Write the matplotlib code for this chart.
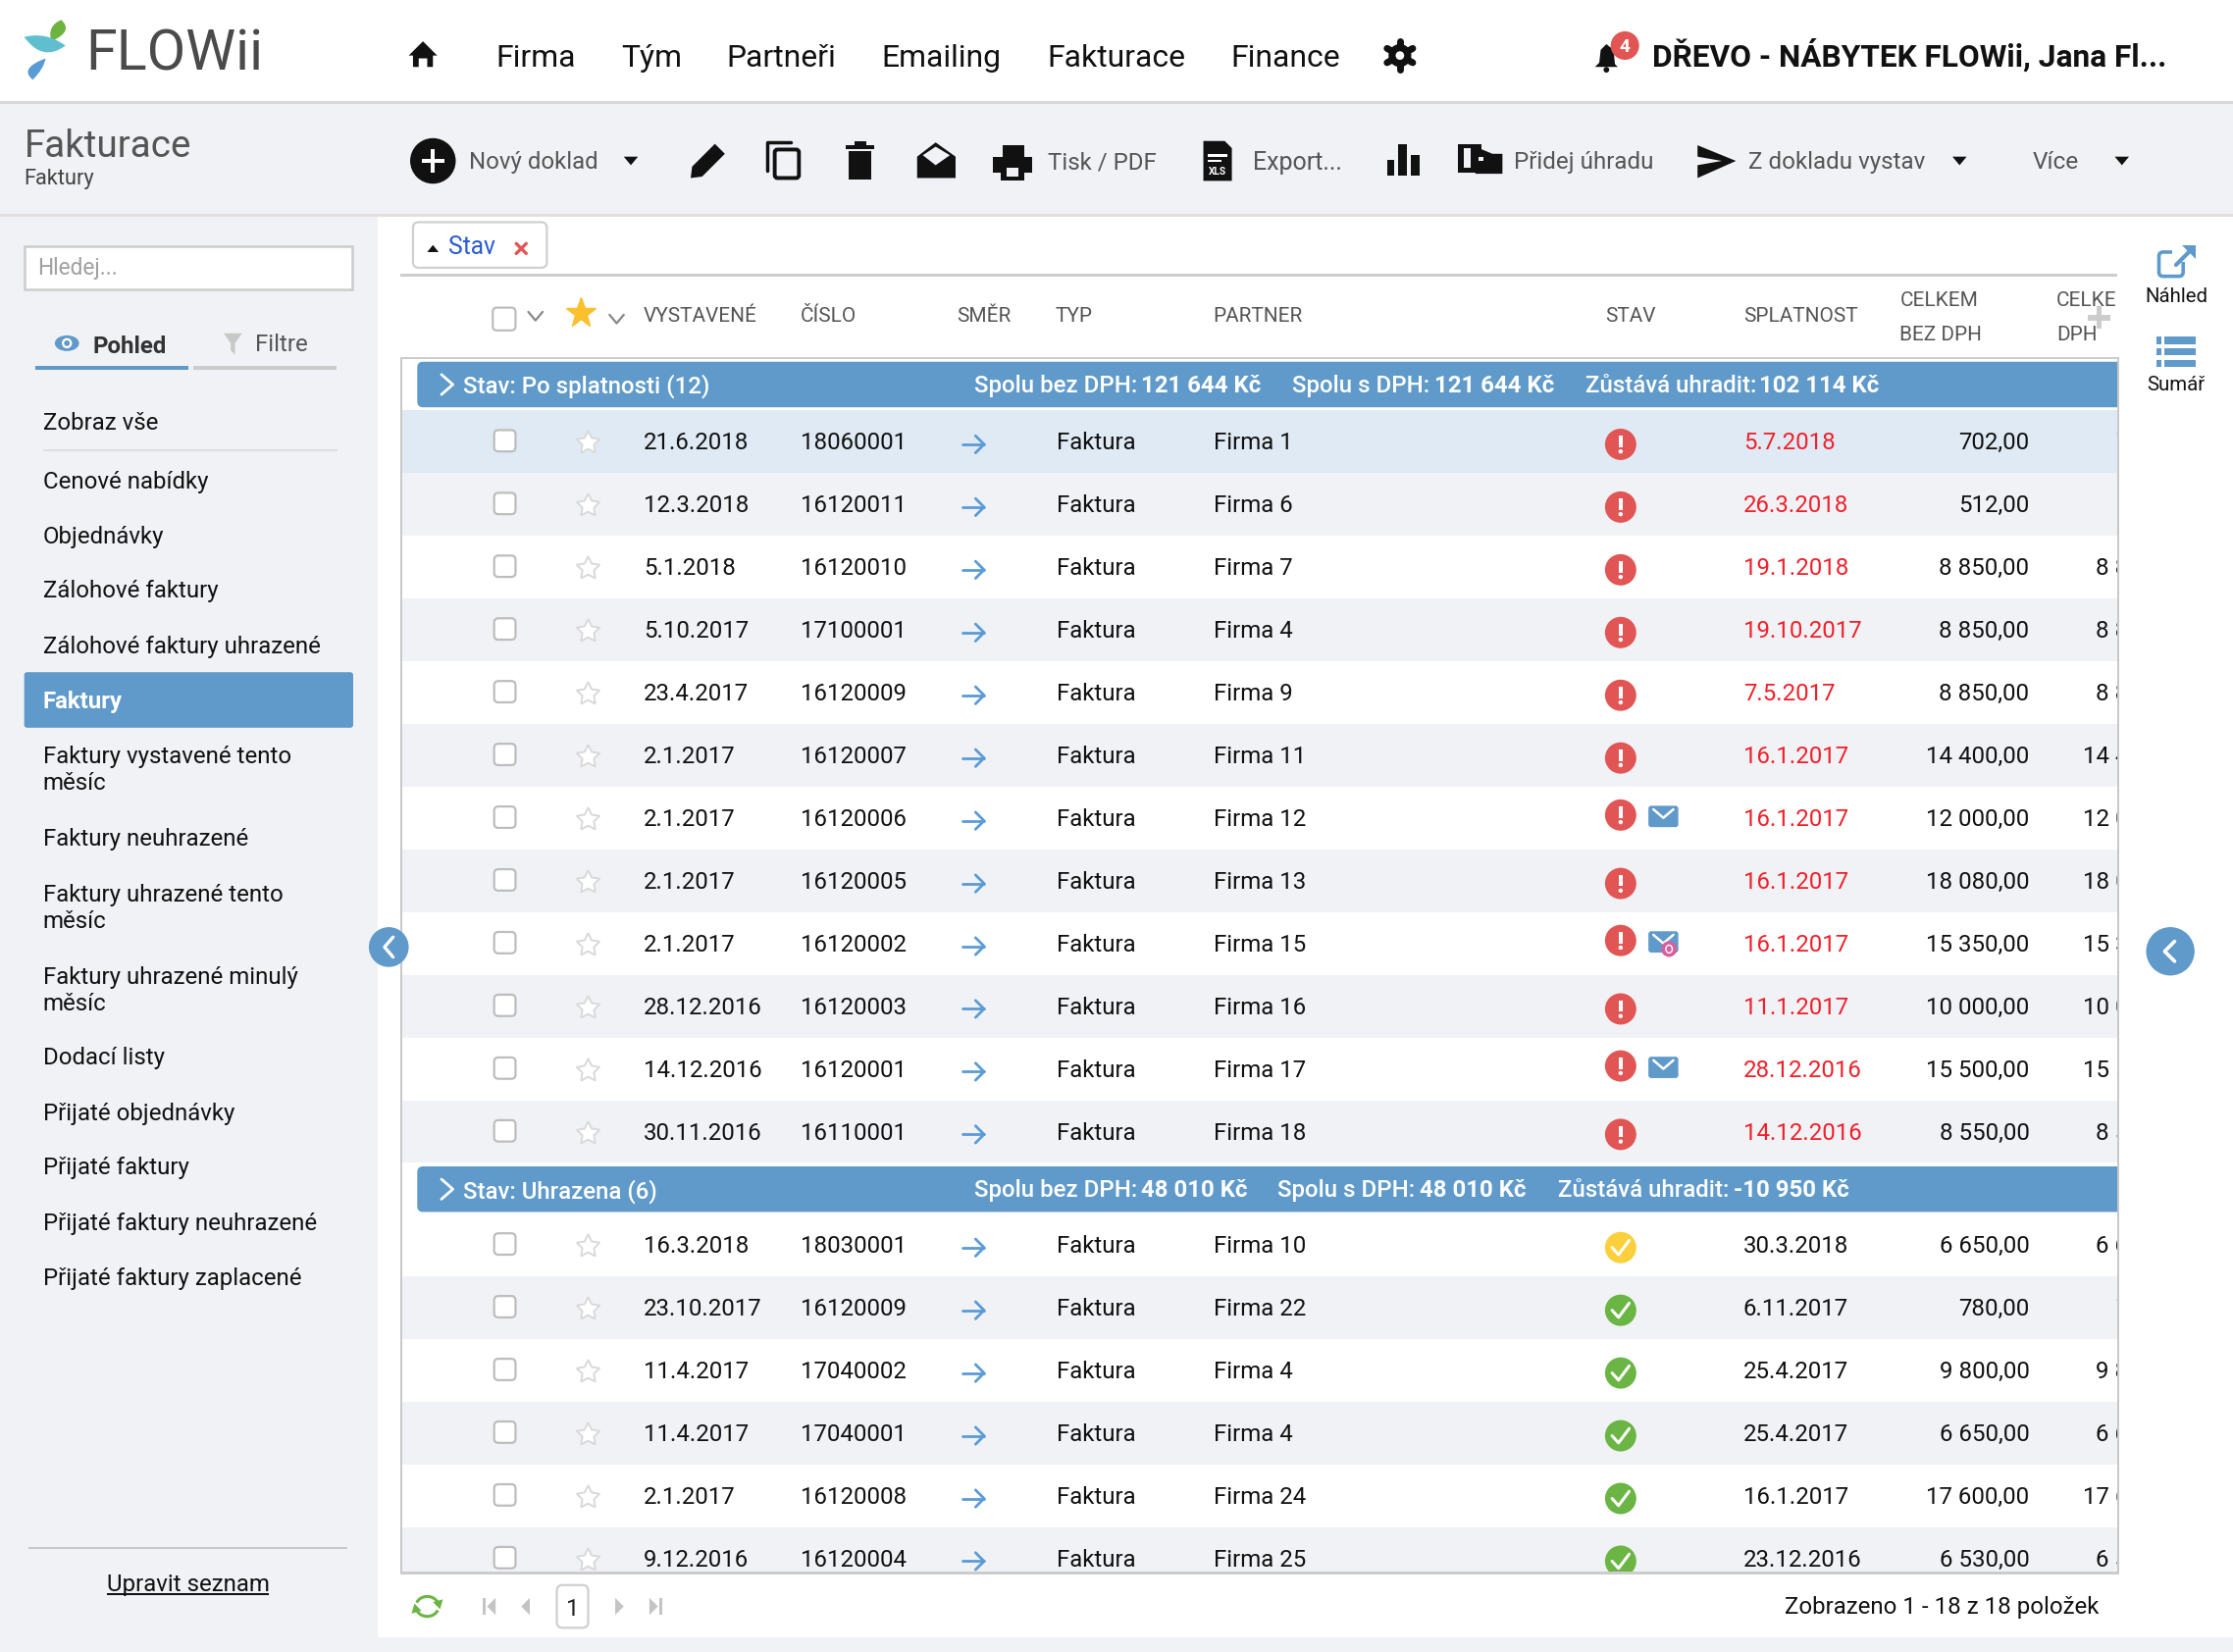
import matplotlib
matplotlib.use('Agg')
import matplotlib.pyplot as plt
from matplotlib.patches import Rectangle, Circle, FancyBboxPatch, Polygon, PathPatch, Ellipse, Arc
from matplotlib.path import Path

plt.rcParams['font.family'] = ['Roboto', 'DejaVu Sans']

#table data
dates1 = ['21.6.2018', '12.3.2018', '5.1.2018', '5.10.2017', '23.4.2017', '2.1.2017',
          '2.1.2017', '2.1.2017', '2.1.2017', '28.12.2016', '14.12.2016', '30.11.2016']
numbers1 = ['18060001', '16120011', '16120010', '17100001', '16120009', '16120007',
            '16120006', '16120005', '16120002', '16120003', '16120001', '16110001']
partners1 = ['Firma 1', 'Firma 6', 'Firma 7', 'Firma 4', 'Firma 9', 'Firma 11',
             'Firma 12', 'Firma 13', 'Firma 15', 'Firma 16', 'Firma 17', 'Firma 18']
due1 = ['5.7.2018', '26.3.2018', '19.1.2018', '19.10.2017', '7.5.2017', '16.1.2017',
        '16.1.2017', '16.1.2017', '16.1.2017', '11.1.2017', '28.12.2016', '14.12.2016']
amounts1 = ['702,00', '512,00', '8 850,00', '8 850,00', '8 850,00', '14 400,00',
            '12 000,00', '18 080,00', '15 350,00', '10 000,00', '15 500,00', '8 550,00']
mail1 = ['', '', '', '', '', '', 'mail', '', 'read', '', 'mail', '']

dates2 = ['16.3.2018', '23.10.2017', '11.4.2017', '11.4.2017', '2.1.2017', '9.12.2016']
numbers2 = ['18030001', '16120009', '17040002', '17040001', '16120008', '16120004']
partners2 = ['Firma 10', 'Firma 22', 'Firma 4', 'Firma 4', 'Firma 24', 'Firma 25']
due2 = ['30.3.2018', '6.11.2017', '25.4.2017', '25.4.2017', '16.1.2017', '23.12.2016']
amounts2 = ['6 650,00', '780,00', '9 800,00', '6 650,00', '17 600,00', '6 530,00']
status2 = ['yellow', 'green', 'green', 'green', 'green', 'green']

nav_labels = ['Firma', 'Tým', 'Partneři', 'Emailing', 'Fakturace', 'Finance']
nav_x = [348, 436, 510, 619, 735, 864]

side_labels = ['Zobraz vše', 'Cenové nabídky', 'Objednávky', 'Zálohové faktury', 'Zálohové faktury uhrazené',
               'Faktury vystavené tento', 'měsíc', 'Faktury neuhrazené', 'Faktury uhrazené tento', 'měsíc',
               'Faktury uhrazené minulý', 'měsíc', 'Dodací listy', 'Přijaté objednávky', 'Přijaté faktury',
               'Přijaté faktury neuhrazené', 'Přijaté faktury zaplacené']
side_y = [296, 337, 376, 414, 453, 530, 549, 588, 627, 646, 685, 704, 742, 781, 819, 858, 897]

head_labels = ['VYSTAVENÉ', 'ČÍSLO', 'SMĚR', 'TYP', 'PARTNER', 'STAV', 'SPLATNOST']
head_x = [452, 562, 672, 741, 852, 1127, 1224]

BLUE = '#5f9aca'
PANEL = '#f0f2f6'
RED = '#e25555'

fig = plt.figure(figsize=(22.76, 16.84), dpi=100)
ax = fig.add_axes([0, 0, 1, 1])
ax.set_xlim(0, 1568)
ax.set_ylim(1160, 0)
ax.axis('off')


def fs(px):
    return px * 1.045


def rect(x0, y0, x1, y1, color, z=1, clip=None):
    p = Rectangle((x0, y0), x1 - x0, y1 - y0, facecolor=color, edgecolor='none', zorder=z)
    ax.add_patch(p)
    if clip is not None:
        p.set_clip_path(clip)


def rbox(x0, y0, x1, y1, r, face, edge, lw=1.5, z=3):
    ax.add_patch(FancyBboxPatch((x0 + r, y0 + r), x1 - x0 - 2 * r, y1 - y0 - 2 * r,
                                boxstyle='round,pad=%f,rounding_size=%f' % (r, r),
                                facecolor=face, edgecolor=edge, linewidth=lw, zorder=z))


def txt(x, y, s, size=16.5, color='#111111', ha='left', weight='normal', clip=None, z=6):
    t = ax.text(x, y, s, fontsize=fs(size), color=color, ha=ha, va='center_baseline', weight=weight, zorder=z)
    if clip is not None:
        t.set_clip_on(True)
        t.set_clip_path(clip)
    return t


def poly(pts, color, z=5, clip=None):
    p = Polygon(pts, closed=True, facecolor=color, edgecolor='none', zorder=z)
    ax.add_patch(p)
    if clip is not None:
        p.set_clip_path(clip)


def line(xs, ys, color, lw=2.0, z=5, clip=None):
    l, = ax.plot(xs, ys, color=color, lw=lw, zorder=z, solid_capstyle='round', solid_joinstyle='round')
    if clip is not None:
        l.set_clip_path(clip)


def circ(x, y, r, color, z=5, clip=None):
    c = Circle((x, y), r, facecolor=color, edgecolor='none', zorder=z)
    ax.add_patch(c)
    if clip is not None:
        c.set_clip_path(clip)


def tri_down(x, y, w=5, color='#111111'):
    poly([(x - w, y - 3), (x + w, y - 3), (x, y + 3)], color)


def leaf(p0, c0, p1, c1, color):
    verts = [p0, c0, p1, c1, p0, p0]
    codes = [Path.MOVETO, Path.CURVE3, Path.CURVE3, Path.CURVE3, Path.CURVE3, Path.CLOSEPOLY]
    ax.add_patch(PathPatch(Path(verts, codes), facecolor=color, edgecolor='none', zorder=5))


def envelope(x, y):
    ax.add_patch(FancyBboxPatch((x - 10, y - 7), 20, 14, boxstyle='round,pad=0.5,rounding_size=2',
                                facecolor=BLUE, edgecolor='none', zorder=5))
    line([x - 7, x, x + 7], [y - 5, y + 1, y - 5], 'white', 1.8, z=6)


def row(y, date, num, partner, due, amount, due_col, status, mail, band, clip):
    rect(282, y - 22, 1487, y + 22, band, z=1, clip=clip)
    ty = y - 0.5
    txt(452, ty, date, clip=clip)
    txt(562, ty, num, clip=clip)
    txt(742, ty, 'Faktura', clip=clip)
    txt(852, ty, partner, clip=clip)
    txt(1224, ty, due, color=due_col, clip=clip)
    txt(1425, ty, amount, ha='right', clip=clip)
    txt(1535, ty, amount, ha='right', clip=clip)
    # checkbox
    rbox(347, y - 8, 362, y + 7, 3, 'white', '#bdbdbd', 1.6, z=4)
    # star
    m, = ax.plot([413], [y + 1], marker=(5, 1, 0), ms=fs(17), mfc='white', mec='#d9d9d9', mew=1.4, zorder=4)
    m.set_clip_path(clip)
    # direction arrow
    line([676, 691], [y + 2, y + 2], '#5b9bd5', 2.0, clip=clip)
    line([685, 691, 685], [y - 4, y + 2, y + 8], '#5b9bd5', 2.0, clip=clip)
    # status icon
    cy = y - 2 if mail else y + 2
    if status == 'red':
        circ(1138, cy, 11, RED, clip=clip)
        rect(1136.7, cy - 6, 1139.3, cy + 2, 'white', z=6)
        circ(1138, cy + 5, 1.5, 'white', z=6)
    else:
        circ(1138, cy, 11, '#6bb544' if status == 'green' else '#fbd03c', clip=clip)
        line([1132, 1136.5, 1144], [cy, cy + 5, cy - 5], 'white', 2.2, z=6, clip=clip)
    if mail:
        envelope(1168, y - 1)
    if mail == 'read':
        circ(1172, y + 4, 5.5, '#d4609f', z=7)
        ax.add_patch(Ellipse((1172, y + 4), 4.5, 5.5, facecolor='none', edgecolor='white', lw=1, zorder=8))


def group_bar(y0, title, parts):
    ax.add_patch(FancyBboxPatch((296, y0 + 3), 1300, 26, boxstyle='round,pad=3,rounding_size=4',
                                facecolor=BLUE, edgecolor='none', zorder=2))
    rect(1487, y0 - 1, 1610, y0 + 33, 'white', z=2.5)
    line([310, 318, 310], [y0 + 9, y0 + 16, y0 + 23], 'white', 2.0)
    txt(325, y0 + 15.5, title, color='white', size=16.5, weight='medium')
    for x, s, w in parts:
        txt(x, y0 + 15.5, s, color='white', size=16.5, weight=w)


# backgrounds
rect(0, 0, 1568, 72, 'white')
rect(0, 72, 1568, 151, PANEL)
rect(0, 71, 1568, 73, '#d9d9d9', z=2)
rect(0, 150, 1568, 152, '#e6dfe2', z=2)
rect(0, 152, 265, 1160, PANEL)
rect(265, 152, 1568, 1150, 'white')
rect(265, 1150, 1568, 1160, PANEL)

# logo
leaf((36, 29), (33, 18), (43, 14), (52, 22), '#6cb33f')
leaf((17, 26), (32, 22), (46, 32), (30, 44), '#5fbfcf')
leaf((32, 41), (31, 48), (23, 56), (13, 48), '#5b9bd5')
txt(60, 34.5, 'FLOWii', size=39.5, color='#4a4a4a')

# top nav
poly([(297, 29), (307, 39), (304, 39), (304, 47), (300, 47), (300, 41), (294, 41), (294, 47), (290, 47), (290, 39), (287, 39)], '#111111')
for x, s in zip(nav_x, nav_labels):
    txt(x, 39, s, size=22)
circ(983, 39, 8, '#111111')
for dx, dy in [(0, -10), (0, 10), (-9, -5), (9, 5), (-9, 5), (9, -5)]:
    line([983, 983 + dx], [39, 39 + dy], '#111111', 5)
circ(983, 39, 3, 'white', z=6)
poly([(1128, 31), (1133, 35), (1134, 45), (1136, 47), (1120, 47), (1123, 44), (1124, 35)], '#111111')
circ(1128, 49, 2, '#111111')
circ(1141, 32, 10, RED, z=6)
txt(1141, 32, '4', size=13, color='white', ha='center', weight='bold', z=7)
txt(1160, 37, 'DŘEVO - NÁBYTEK FLOWii, Jana Fl...', size=21.8, weight='bold')

# toolbar
txt(17, 100.5, 'Fakturace', size=26.6, color='#555555')
txt(17, 124, 'Faktury', size=15, color='#444444')
circ(304, 113, 16, '#111111')
rect(296, 111.5, 312, 114.5, 'white', z=6)
rect(302.5, 105, 305.5, 121, 'white', z=6)
txt(329, 112.5, 'Nový doklad', size=16.5, color='#555555')
tri_down(443, 113)
# pencil
poly([(485, 125), (486, 117), (502, 101), (509, 108), (493, 124)], '#111111')
# copy
line([539, 539, 555], [120, 100, 100], '#111111', 2.5)
ax.add_patch(FancyBboxPatch((544, 105), 17, 20, boxstyle='round,pad=0,rounding_size=2', facecolor='none', edgecolor='#111111', lw=2.8, zorder=5))
# trash
rect(594, 102, 614, 105, '#111111', z=5)
rect(600, 99, 608, 103, '#111111', z=5)
rect(596, 106, 612, 126, '#111111', z=5)
# open envelope
poly([(644, 110), (657, 100), (671, 110), (671, 125), (644, 125)], '#111111')
poly([(648, 109), (657, 103), (667, 109), (657, 116)], PANEL, z=6)
# printer
rect(704, 102, 719, 110, '#111111', z=5)
rect(697, 110, 725, 121, '#111111', z=5)
rect(703, 116, 719, 127, '#111111', z=5)
rect(707, 118, 715, 124, PANEL, z=6)
txt(736, 112.5, 'Tisk / PDF', size=16.5, color='#555555')
# xls
poly([(845, 99), (860, 99), (865, 104), (865, 127), (845, 127)], '#111111')
rect(848, 108, 862, 110, 'white', z=6)
rect(848, 112, 858, 114, 'white', z=6)
txt(855, 120, 'XLS', size=7, color='white', ha='center', weight='bold', z=7)
txt(880, 112.5, 'Export...', size=17.2, color='#555555')
# bars
rect(974, 112, 979, 123, '#111111', z=5)
rect(982, 101, 988, 123, '#111111', z=5)
rect(991, 109, 997, 123, '#111111', z=5)
# payment icon
rect(1024, 101, 1040, 121, '#111111', z=5)
rect(1028, 104, 1033, 118, PANEL, z=6)
poly([(1036, 103), (1048, 108), (1055, 108), (1055, 122), (1036, 122)], '#111111', z=7)
rect(1038, 110, 1042, 113, PANEL, z=8)
txt(1063, 112.5, 'Přidej úhradu', size=16.6, color='#555555')
# send
poly([(1192, 102), (1219, 113), (1192, 125), (1192, 116), (1209, 113), (1192, 110)], '#111111')
txt(1228, 112.5, 'Z dokladu vystav', size=16.6, color='#555555')
tri_down(1376, 113)
txt(1427, 112.5, 'Více', size=16.8, color='#555555')
tri_down(1490, 113)

# sidebar
ax.add_patch(Rectangle((17, 173), 230, 30, facecolor='white', edgecolor='#cccccc', lw=1.8, zorder=3))
txt(26, 187, 'Hledej...', size=15.7, color='#a0a0a0')
ax.add_patch(Ellipse((47, 241), 17, 11, facecolor=BLUE, edgecolor='none', zorder=5))
circ(47, 241, 3.6, 'white', z=6)
circ(47, 241, 2, BLUE, z=7)
txt(65, 241.5, 'Pohled', size=16.5, color='#333333', weight='bold')
poly([(157, 234), (170, 234), (165, 241), (165, 249), (162, 246), (162, 241)], '#c8c8c8')
txt(179, 240.5, 'Filtre', size=16.5, color='#555555')
rect(25, 257, 132, 260, BLUE, z=3)
rect(136, 257, 236, 260, '#cccccc', z=3)
rect(30, 315.5, 237, 317, '#dedede', z=3)
for y, s in zip(side_y, side_labels):
    txt(30, y - 0.5, s)
ax.add_patch(FancyBboxPatch((19, 474), 227, 35, boxstyle='round,pad=2,rounding_size=2', facecolor=BLUE, edgecolor='none', zorder=3))
txt(30, 491, 'Faktury', color='white', weight='bold')
rect(20, 1086.5, 244, 1088, '#c8c8c8', z=3)
txt(132, 1111, 'Upravit seznam', ha='center')
rect(75, 1118.5, 189, 1119.8, '#111111', z=6)

# filter chip
rbox(290, 156, 384, 188, 4, 'white', '#d0d0d0', 1.6)
poly([(300, 177), (308, 177), (304, 172)], '#111111')
txt(315, 172, 'Stav', size=17, color='#2a5bd0')
line([362.5, 369.5], [171, 178], RED, 2.4)
line([362.5, 369.5], [178, 171], RED, 2.4)
rect(281, 192.5, 1487, 194.5, '#cccccc', z=3)

# column heads
rbox(346, 216, 362, 232, 3, 'white', '#bdbdbd', 1.6, z=4)
line([371, 376, 381], [219, 225, 219], '#888888', 1.6)
ax.plot([408], [220], marker='*', ms=fs(22), mfc='#fbc02d', mec='#fbc02d', zorder=5)
line([428, 433, 438], [221, 227, 221], '#888888', 1.6)
for x, s in zip(head_x, head_labels):
    txt(x, 221, s, size=14.3, color='#555555')
clip_head = Rectangle((281, 195), 1206, 56, transform=ax.transData)
txt(1334, 210, 'CELKEM', size=14.3, color='#555555')
txt(1334, 234, 'BEZ DPH', size=14.3, color='#555555')
txt(1444, 210, 'CELKEM', size=14.3, color='#555555', clip=clip_head)
txt(1444, 234, 'DPH', size=14.3, color='#555555', clip=clip_head)
rect(1466, 221, 1482, 225, '#cccccc', z=7)
rect(1472, 215, 1476, 231, '#cccccc', z=7)

# table body
clip_body = Rectangle((282, 251), 1205, 853, transform=ax.transData)
for i in range(len(dates1)):
    y = 310 + 44.05 * i
    band = '#e0eaf4' if i == 0 else (PANEL if i % 2 == 1 else 'white')
    row(y, dates1[i], numbers1[i], partners1[i], due1[i], amounts1[i], '#f0202a', 'red', mail1[i], band, clip_body)
for i in range(len(dates2)):
    y = 874 + 44.05 * i
    band = PANEL if i % 2 == 1 else 'white'
    row(y, dates2[i], numbers2[i], partners2[i], due2[i], amounts2[i], '#111111', status2[i], '', band, clip_body)

group_bar(254, 'Stav: Po splatnosti (12)',
          [(684, 'Spolu bez DPH:', 'medium'), (801, '121 644 Kč', 'bold'),
           (907, 'Spolu s DPH:', 'medium'), (1007, '121 644 Kč', 'bold'),
           (1113, 'Zůstává uhradit:', 'medium'), (1235, '102 114 Kč', 'bold')])
group_bar(819, 'Stav: Uhrazena (6)',
          [(684, 'Spolu bez DPH:', 'medium'), (801, '48 010 Kč', 'bold'),
           (897, 'Spolu s DPH:', 'medium'), (997, '48 010 Kč', 'bold'),
           (1094, 'Zůstává uhradit:', 'medium'), (1217, '-10 950 Kč', 'bold')])

# table frame
rect(281.2, 251, 282.6, 1104, '#c8c8c8', z=8)
rect(1486.6, 251, 1488, 1104, '#c8c8c8', z=8)
rect(281.2, 250.5, 1488, 252, '#cccccc', z=8)
rect(281.2, 1103.5, 1488, 1105.5, '#cccccc', z=8)

# side buttons
circ(273, 665, 14, BLUE, z=9)
line([276, 270, 276], [658, 665, 672], 'white', 2.4, z=10)
circ(1524, 668, 17, BLUE, z=9)
line([1527, 1520, 1527], [661, 668, 675], 'white', 2.6, z=10)

# right panel
ax.add_patch(FancyBboxPatch((1516, 177), 17, 17, boxstyle='round,pad=0,rounding_size=3', facecolor='none', edgecolor=BLUE, lw=2.6, zorder=5))
rect(1525, 170, 1545, 184, 'white', z=6)
line([1528, 1540], [186, 174], BLUE, 3, z=7)
poly([(1532, 172), (1542, 172), (1542, 182)], BLUE, z=7)
txt(1528, 207, 'Náhled', size=14, ha='center')
for yy in [239, 247, 255]:
    rect(1514, yy - 2.5, 1518, yy + 2.5, BLUE, z=5)
    rect(1520, yy - 2.5, 1542, yy + 2.5, BLUE, z=5)
txt(1528, 269, 'Sumář', size=14, ha='center')

# pager
ax.add_patch(Arc((300, 1128), 16, 14, theta1=200, theta2=340, edgecolor='#6bb544', lw=2.2, zorder=5))
ax.add_patch(Arc((300, 1128), 16, 14, theta1=20, theta2=160, edgecolor='#6bb544', lw=2.2, zorder=5))
poly([(291, 1126), (296, 1131), (289, 1133)], '#6bb544')
poly([(309, 1130), (304, 1125), (311, 1123)], '#6bb544')
rect(339, 1122, 341, 1134, '#c4c4c4', z=5)
poly([(348, 1122), (342, 1128), (348, 1134)], '#c4c4c4')
poly([(372, 1122), (366, 1128), (372, 1134)], '#c4c4c4')
rbox(391, 1113, 413, 1143, 4, 'white', '#cfcfcf', 1.6)
txt(402, 1128, '1', size=16.5, ha='center', color='#222222')
poly([(432, 1122), (438, 1128), (432, 1134)], '#c4c4c4')
poly([(456, 1122), (462, 1128), (456, 1134)], '#c4c4c4')
rect(463, 1122, 465, 1134, '#c4c4c4', z=5)
txt(1474, 1127, 'Zobrazeno 1 - 18 z 18 položek', ha='right')

fig.savefig('out.png', dpi=100, facecolor='white')
